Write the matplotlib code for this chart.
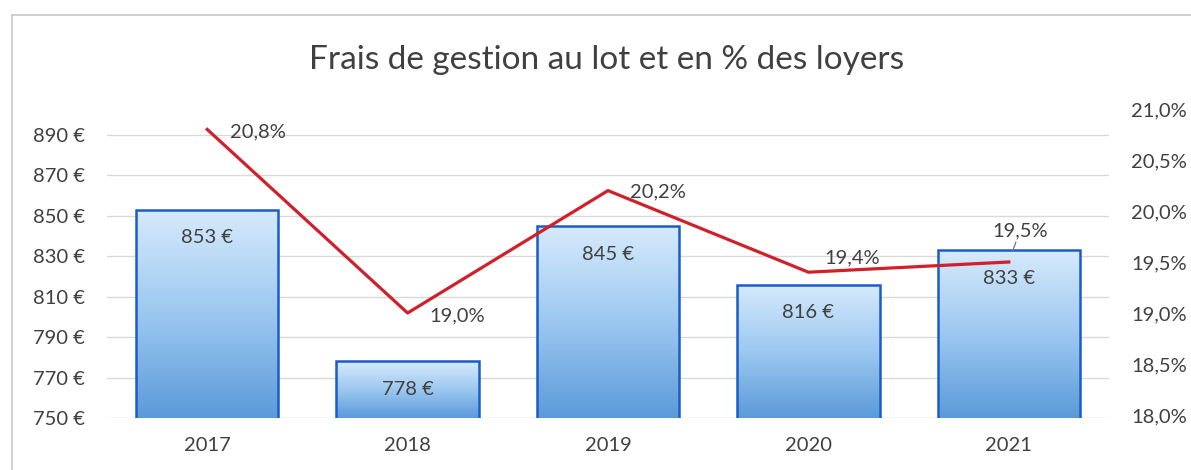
import matplotlib
matplotlib.use("Agg")
import matplotlib.pyplot as plt
import numpy as np
from matplotlib.colors import LinearSegmentedColormap
from matplotlib.lines import Line2D

# ---- data ----
years = ["2017", "2018", "2019", "2020", "2021"]
frais_lot = [853, 778, 845, 816, 833]
pct_loyers = [20.8, 19.0, 20.2, 19.4, 19.5]
left_ticks = [750, 770, 790, 810, 830, 850, 870, 890]
right_ticks = [18.0, 18.5, 19.0, 19.5, 20.0, 20.5, 21.0]
title = "Frais de gestion au lot et en % des loyers"

# label offsets (pixels) for the percentage labels
pct_offsets = [(51, -2), (50, -3), (50, -1), (44, 14), (11, 31)]

plt.rcParams["font.family"] = ["Lato", "DejaVu Sans"]
TXT = "#404040"
FS = 14.5

W, H = 1191, 470
fig = plt.figure(figsize=(W / 100, H / 100), dpi=100)
fig.patch.set_facecolor("white")

top_px, bot_px = 109, 418
ax = fig.add_axes([107 / W, 1 - bot_px / H, (1109 - 107) / W, (bot_px - top_px) / H])
x = np.arange(len(years))
ylim_left = (750, 750 + (bot_px - top_px) / 2.021)

for s in ax.spines.values():
    s.set_visible(False)
ax.set_yticks(left_ticks)
ax.set_yticklabels([f"{v} €" for v in left_ticks])
ax.set_xticks(x)
ax.set_xticklabels(years)
ax.tick_params(axis="both", length=0, labelsize=FS, colors=TXT)
ax.tick_params(axis="y", pad=16)
ax.tick_params(axis="x", pad=14)
ax.grid(axis="y", color="#d9d9d9", linewidth=1)
ax.set_axisbelow(True)

# bars with vertical gradient
cmap = LinearSegmentedColormap.from_list("bl", ["#5b9ad9", "#9cc8f0", "#d6eafb"])
grad = np.linspace(0, 1, 256).reshape(-1, 1)
bw = 0.71
bars = ax.bar(x, frais_lot, width=bw, facecolor="none", edgecolor="#1a5cc8",
              linewidth=1.8, zorder=3)
for b, v in zip(bars, frais_lot):
    x0 = b.get_x()
    im = ax.imshow(grad, cmap=cmap, aspect="auto", origin="lower",
                   extent=[x0, x0 + bw, 750, v], zorder=2)
    im.set_clip_path(b)
    ax.annotate(f"{v} €", (b.get_x() + bw / 2, v), xytext=(0, -28),
                textcoords="offset pixels", ha="center", va="center",
                fontsize=FS, color=TXT, zorder=5)
ax.set_xlim(-0.5, len(years) - 0.5)
ax.set_ylim(*ylim_left)

# secondary axis
ax2 = ax.twinx()
ax2.set_ylim(18 - 3 / 102.0, 21.0)
for s in ax2.spines.values():
    s.set_visible(False)
ax2.set_yticks(right_ticks)
ax2.set_yticklabels([f"{v:.1f}%".replace(".", ",") for v in right_ticks])
ax2.tick_params(axis="y", length=0, labelsize=FS, colors=TXT, pad=16)
ax2.plot(x, pct_loyers, color="#d0202a", linewidth=2.3, zorder=4)
for i, (xi, p) in enumerate(zip(x, pct_loyers)):
    dx, dy = pct_offsets[i]
    kw = {}
    if i == len(x) - 1:
        kw["arrowprops"] = dict(arrowstyle="-", color="#7f7f7f", lw=1,
                                shrinkA=0, shrinkB=9)
    ax2.annotate(f"{p:.1f}%".replace(".", ","), (xi, p), xytext=(dx, dy),
                 textcoords="offset pixels", ha="center", va="center",
                 fontsize=FS, color=TXT, zorder=6, **kw)

# title
fig.text(607 / W, 1 - 60 / H, title, ha="center", va="center",
         fontsize=24, color=TXT)

# chart border
fig.add_artist(Line2D([11.5 / W, 11.5 / W], [0, 1 - 15 / H],
                      transform=fig.transFigure, color="#c8c8c8", lw=1.2))
fig.add_artist(Line2D([11.5 / W, 1], [1 - 15 / H, 1 - 15 / H],
                      transform=fig.transFigure, color="#c8c8c8", lw=1.2))

fig.savefig("out.png", dpi=100, facecolor="white")
